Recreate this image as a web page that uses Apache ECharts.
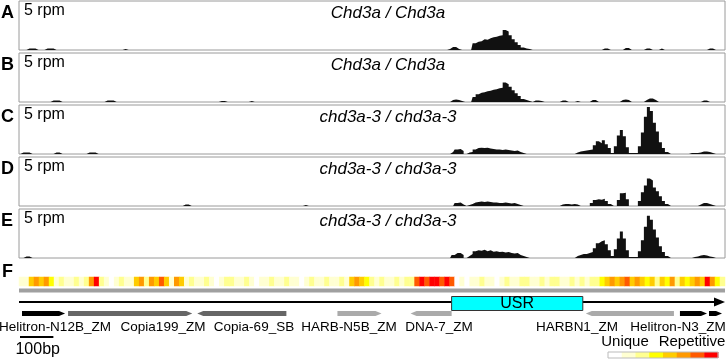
<!DOCTYPE html>
<html><head><meta charset="utf-8">
<script src="https://cdn.jsdelivr.net/npm/echarts@6/dist/echarts.min.js"></script>
<style>html,body{margin:0;padding:0;background:#fff}#c{width:726px;height:360px}</style>
</head><body><div id="c"></div>
<script>
// ---------------- data ----------------
const GENOME_BP = 2115;      // span of the locus shown
const COV_BIN_BP = 9;        // coverage bin size
const HEAT_BIN_BP = 15;      // repetitiveness bin size
const trackLetters = ['A', 'B', 'C', 'D', 'E'];
const trackTitles = ['Chd3a / Chd3a', 'Chd3a / Chd3a', 'chd3a-3 / chd3a-3', 'chd3a-3 / chd3a-3', 'chd3a-3 / chd3a-3'];
const trackScaleLabel = '5 rpm';
const trackMax = 5;
// coverage (rpm), as runs: [first bin, [values...]]; all other bins are 0
const covA = [
  [3, [0.15, 0.15, 0.15]], [9, [0.15, 0.15, 0.15]], [35, [0.1]],
  [143, [0.1, 0.3, 0.3, 0.1]],
  [151, [0.7, 0.85, 0.9, 1.1, 1.05, 1.2, 1.3, 1.35, 1.45, 1.5, 2.05, 1.9, 1.5, 1.1, 0.8, 0.5, 0.25, 0.15, 0.1]],
  [194, [0.15, 0.15]], [201, [0.2, 0.2]], [208, [0.15, 0.15]], [213, [0.15]], [229, [0.15, 0.15]]
];
const covB = [
  [11, [0.15, 0.15, 0.15]], [29, [0.15, 0.15, 0.15]], [67, [0.1, 0.1]], [77, [0.1]],
  [144, [0.2, 0.25, 0.2, 0.1]],
  [151, [0.5, 0.8, 0.95, 1.0, 1.1, 1.15, 1.25, 1.3, 1.4, 1.45, 2.0, 1.8, 1.55, 1.2, 0.9, 0.6, 0.3, 0.2, 0.1]],
  [171, [0.15, 0.15, 0.1]], [180, [0.15, 0.15]], [185, [0.1]], [190, [0.2, 0.2]],
  [200, [0.2, 0.25, 0.2]], [208, [0.2, 0.35, 0.35, 0.2]], [227, [0.15, 0.15]]
];
const covC = [
  [1, [0.15, 0.15, 0.15]], [12, [0.15, 0.15]], [23, [0.15, 0.15, 0.15]],
  [144, [0.2, 0.45, 0.5, 0.3]],
  [149, [0.15, 0.2, 0.45, 0.6, 0.65, 0.6, 0.65, 0.55, 0.5, 0.45, 0.45, 0.4, 0.45, 0.4, 0.35, 0.3, 0.35, 0.2, 0.1]],
  [185, [0.15, 0.25, 0.3, 0.35, 0.4, 0.45, 0.9, 1.3, 1.1, 1.4, 1.0, 0.6, 0.1]],
  [198, [0.8, 1.9, 2.45, 1.8, 0.7, 0.1, 0.1, 0.1]],
  [206, [0.8, 2.2, 3.8, 4.8, 4.4, 3.2, 2.3, 1.2, 0.6, 0.2]],
  [223, [0.1, 0.1, 0.1, 0.15, 0.25, 0.25, 0.2, 0.1]]
];
const covD = [
  [55, [0.15, 0.15]], [95, [0.1]],
  [145, [0.3, 0.35, 0.15]],
  [149, [0.1, 0.2, 0.35, 0.4, 0.45, 0.4, 0.45, 0.4, 0.35, 0.35, 0.3, 0.3, 0.35, 0.3, 0.25, 0.3, 0.2, 0.1]],
  [180, [0.15, 0.2, 0.2, 0.15, 0.2, 0.15]],
  [190, [0.3, 0.6, 0.7, 0.65, 0.75, 0.5, 0.2]],
  [199, [0.6, 1.3, 1.35, 0.7]],
  [206, [0.5, 1.4, 2.1, 2.8, 2.6, 1.9, 1.5, 1.0, 0.5, 0.2]],
  [226, [0.15, 0.3, 0.3, 0.2, 0.1]]
];
const covE = [
  [2, [0.15, 0.15]],
  [144, [0.3, 0.5, 0.5, 0.3]],
  [149, [0.2, 0.4, 0.7, 0.8, 0.75, 0.85, 0.7, 0.8, 0.65, 0.7, 0.6, 0.65, 0.55, 0.6, 0.5, 0.45, 0.5, 0.3, 0.2, 0.1]],
  [185, [0.2, 0.3, 0.4, 0.4, 0.5, 0.6, 1.0, 1.5, 1.7, 1.8, 1.4, 0.8, 0.2]],
  [198, [0.9, 2.0, 2.7, 2.0, 0.8, 0.1, 0.1, 0.1]],
  [206, [0.7, 1.8, 3.2, 4.3, 3.9, 2.9, 2.1, 1.2, 0.6, 0.2]],
  [224, [0.1, 0.15, 0.25, 0.3, 0.25, 0.15, 0.1]]
];
// repetitiveness level per 15 bp bin (0 = unique ... 7 = most repetitive)
const heatLevels = [
  1, 1,
  4, 5, 4, 5, 3,
  1, 2, 1, 1, 2, 1, 2,
  5, 7,
  2, 1, 0, 1, 2, 1, 1,
  4, 5,
  2,
  5, 4, 6, 4,
  1,
  5, 4,
  1, 2, 1, 1, 2, 1, 0, 1, 2, 2, 1, 1, 2, 1, 0, 1, 1, 2, 1, 1, 2, 1, 1, 0, 1, 2, 1, 1, 2, 1,
  1, 2, 1,
  4, 5, 4, 3, 2,
  1, 2, 1, 1, 2, 1, 2, 2,
  6, 7, 6, 7, 7, 6, 7, 6,
  0, 1, 0, 1, 1, 2, 1, 1, 0, 1, 2, 1, 1, 2, 2, 1, 1, 2, 1, 2, 2, 1, 1, 2, 1, 2, 1, 2, 2,
  3, 4,
  5, 4, 5, 6, 4, 5, 4,
  3, 4, 2, 4, 3, 5, 2, 4, 3, 4,
  5, 4, 7, 5,
  3, 2
];
const heatColors = ['#ffffff', '#ffffd2', '#ffff90', '#ffff00', '#ffcc00', '#ff9900', '#ff5a00', '#ff0000'];
// repeat annotations (bp)
const repStart  = [9, 147, 534, 954, 1173, 1698, 1980, 2067];
const repEnd    = [138, 519, 801, 1086, 1296, 1962, 2061, 2106];
const repStrand = [1, 1, -1, 1, -1, -1, 1, 1];
const repShade  = ['#000000', '#666666', '#666666', '#aaaaaa', '#aaaaaa', '#aaaaaa', '#000000', '#000000'];
const repLabels = ['Helitron-N12B_ZM', 'Copia199_ZM', 'Copia-69_SB', 'HARB-N5B_ZM', 'DNA-7_ZM', 'HARBN1_ZM', 'Helitron-N3_ZM'];
const usrRegion = [1296, 1689];
const usrLabel = 'USR';
const scaleBarBp = 100;
const scaleBarLabel = '100bp';
const legendLabels = ['Unique', 'Repetitive'];

// ---------------- build ----------------
const NB = Math.round(GENOME_BP / COV_BIN_BP);
const NH = Math.round(GENOME_BP / HEAT_BIN_BP);
function expand(runs) {
  const a = new Array(NB).fill(0);
  runs.forEach(([s, vals]) => vals.forEach((v, i) => { if (s + i < NB) a[s + i] = v; }));
  return a;
}
const covs = [covA, covB, covC, covD, covE].map(expand);
const covCats = Array.from({length: NB}, (_, i) => i);
const heatCats = Array.from({length: NH}, (_, i) => i);
const heatData = heatCats.map(i => [i, 0, heatLevels[i] == null ? 1 : heatLevels[i]]);

const FONT = '"Liberation Sans", Arial, sans-serif';
const L = 19, W = 706;
const grids = [], xAxes = [], yAxes = [], series = [], graphic = [];
for (let t = 0; t < 5; t++) {
  const top = 1 + 52 * t;
  grids.push({left: L, width: W, top: top, height: 49, show: true, borderColor: '#9a9a9a', borderWidth: 1, backgroundColor: '#fff'});
  xAxes.push({type: 'category', gridIndex: t, data: covCats, show: false, boundaryGap: true});
  yAxes.push({type: 'value', gridIndex: t, min: 0, max: trackMax, show: false});
  series.push({type: 'line', xAxisIndex: t, yAxisIndex: t, data: covs[t], step: 'middle', symbol: 'none',
    lineStyle: {width: 0, color: '#111'}, areaStyle: {color: '#111', opacity: 1}, silent: true, animation: false, z: 1});
  graphic.push({type: 'text', left: 1, top: top + 3, style: {text: trackLetters[t], font: 'bold 18px ' + FONT, fill: '#000'}});
  graphic.push({type: 'text', left: 24, top: top + 2, style: {text: trackScaleLabel, font: '16px ' + FONT, fill: '#000'}});
  graphic.push({type: 'text', x: 388, y: top + 4, style: {text: trackTitles[t], font: 'italic 17px ' + FONT, fill: '#000', align: 'center', verticalAlign: 'top'}});
}
// heat strip
grids.push({left: L, width: W, top: 277, height: 9});
xAxes.push({type: 'category', gridIndex: 5, data: heatCats, show: false});
yAxes.push({type: 'category', gridIndex: 5, data: ['r'], show: false});
series.push({type: 'heatmap', xAxisIndex: 5, yAxisIndex: 5, data: heatData, silent: true, animation: false});
graphic.push({type: 'text', left: 2, top: 263, style: {text: 'F', font: 'bold 18px ' + FONT, fill: '#000'}});
// annotation area (bp scale)
grids.push({left: L, width: W, top: 286, height: 60});
xAxes.push({type: 'value', gridIndex: 6, min: 0, max: GENOME_BP, show: false});
yAxes.push({type: 'value', gridIndex: 6, min: 0, max: 1, show: false});
// structure: gray bar, main line with arrow, USR box
series.push({
  type: 'custom', xAxisIndex: 6, yAxisIndex: 6, silent: true, animation: false,
  data: [[0, GENOME_BP, usrRegion[0], usrRegion[1]]],
  renderItem: (params, api) => {
    const x0 = api.coord([api.value(0), 0])[0], x1 = api.coord([api.value(1), 0])[0];
    const u0 = api.coord([api.value(2), 0])[0], u1 = api.coord([api.value(3), 0])[0];
    return {type: 'group', children: [
      {type: 'rect', shape: {x: x0, y: 288.5, width: x1 - x0, height: 4}, style: {fill: '#a0a0a0'}},
      {type: 'rect', shape: {x: x0, y: 301, width: x1 - x0 - 8, height: 2}, style: {fill: '#000'}},
      {type: 'polygon', shape: {points: [[x1 - 11, 297.5], [x1, 302], [x1 - 11, 306.5]]}, style: {fill: '#000'}},
      {type: 'rect', shape: {x: u0, y: 296.5, width: u1 - u0, height: 14}, style: {fill: '#00ffff', stroke: '#333', lineWidth: 1}},
      {type: 'text', x: (u0 + u1) / 2, y: 304, style: {text: usrLabel, font: '16px ' + FONT, fill: '#000', align: 'center', verticalAlign: 'middle'}}
    ]};
  }
});
// repeats
series.push({
  type: 'custom', xAxisIndex: 6, yAxisIndex: 6, silent: true, animation: false,
  data: repStart.map((s, i) => [s, repEnd[i], repStrand[i], i]),
  renderItem: (params, api) => {
    const x0 = api.coord([api.value(0), 0])[0], x1 = api.coord([api.value(1), 0])[0];
    const st = api.value(2), col = repShade[api.value(3)];
    const yc = 313.5, hh = 2.6, h = Math.min(6, (x1 - x0) / 2);
    const pts = st > 0
      ? [[x0, yc - hh], [x1 - h, yc - hh], [x1, yc], [x1 - h, yc + hh], [x0, yc + hh]]
      : [[x0, yc], [x0 + h, yc - hh], [x1, yc - hh], [x1, yc + hh], [x0 + h, yc + hh]];
    return {type: 'polygon', shape: {points: pts}, style: {fill: col}};
  }
});
// scale bar
series.push({
  type: 'custom', xAxisIndex: 6, yAxisIndex: 6, silent: true, animation: false,
  data: [[3, 3 + scaleBarBp]],
  renderItem: (params, api) => {
    const x0 = api.coord([api.value(0), 0])[0], x1 = api.coord([api.value(1), 0])[0];
    return {type: 'group', children: [
      {type: 'rect', shape: {x: x0, y: 336, width: x1 - x0, height: 2}, style: {fill: '#000'}},
      {type: 'text', x: (x0 + x1) / 2 + 1, y: 350, style: {text: scaleBarLabel, font: '16px ' + FONT, fill: '#000', align: 'center', verticalAlign: 'middle'}}
    ]};
  }
});
// repeat labels
const labelCx = [55, 163, 254, 349, 439, 577, 678];
repLabels.forEach((t, i) => graphic.push({type: 'text', x: labelCx[i], y: 327, style: {text: t, font: '13.5px ' + FONT, fill: '#000', align: 'center', verticalAlign: 'middle'}}));
// legend
graphic.push({type: 'text', x: 625, y: 342, style: {text: legendLabels[0], font: '15px ' + FONT, fill: '#000', align: 'center', verticalAlign: 'middle'}});
graphic.push({type: 'text', x: 692, y: 342, style: {text: legendLabels[1], font: '15px ' + FONT, fill: '#000', align: 'center', verticalAlign: 'middle'}});
const lgX = 608, lgW = 110, bw = lgW / heatColors.length;
heatColors.forEach((c, i) => graphic.push({type: 'rect', shape: {x: lgX + i * bw, y: 352, width: bw + 0.5, height: 6}, style: {fill: c}}));
graphic.push({type: 'rect', shape: {x: lgX, y: 352, width: lgW, height: 6}, style: {fill: 'none', stroke: '#bbb', lineWidth: 1}});

const chart = echarts.init(document.getElementById('c'), null, {renderer: 'canvas'});
chart.setOption({
  animation: false,
  grid: grids, xAxis: xAxes, yAxis: yAxes, series: series, graphic: graphic,
  visualMap: {type: 'piecewise', show: false, seriesIndex: 5, dimension: 2,
    pieces: heatColors.map((c, i) => ({value: i, color: c}))}
});
</script></body></html>
